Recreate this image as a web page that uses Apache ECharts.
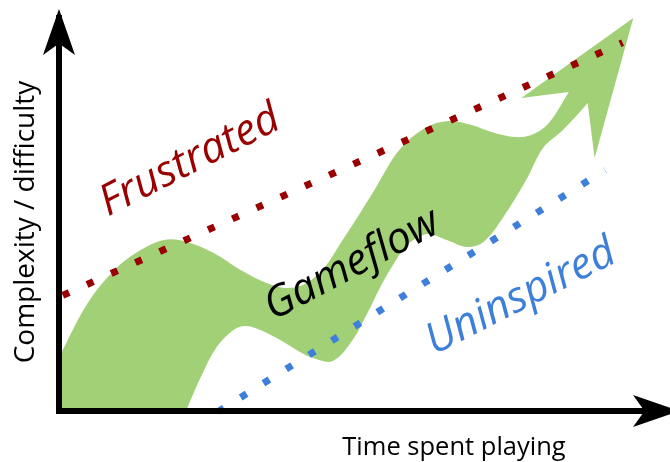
<!DOCTYPE html>
<html>
<head>
<meta charset="utf-8">
<script src="https://cdn.jsdelivr.net/npm/echarts@6/dist/echarts.min.js"></script>
<style>
html,body{margin:0;padding:0;background:#fff;}
#chart{width:670px;height:462px;}
</style>
</head>
<body>
<div id="chart"></div>
<script>
// Gameflow band outline (x: time, y: complexity)
var bandX = [-10, -8, 0, 29, 56, 79, 106, 129, 156, 183, 209, 229, 248, 268, 284, 301, 318, 343, 369, 393, 416, 436, 459, 476, 493, 514, 524, 541, 533, 508, 488, 471, 448, 428, 411, 391, 371, 351, 338, 324, 311, 296, 276, 256, 243, 223, 203, 188, 176, 159, 143, 128, 124];
var bandY = [-10, 40, 54, 108, 141, 159, 171, 169, 158, 141, 128, 123, 127, 144, 168, 194, 221, 261, 283, 290, 286, 279, 274, 276, 287, 319, 335, 321, 308, 281, 263, 231, 194, 169, 164, 171, 177, 166, 148, 124, 98, 71, 50, 53, 59, 71, 81, 85, 81, 64, 34, 0, -10];
// Arrow head of the band
var headX = [514, 466, 579, 540, 533];
var headY = [319, 313, 393, 253, 308];
// "Frustrated" boundary (dotted red)
var redX = [3.8, 568.2];
var redY = [115.6, 368.4];
// "Uninspired" boundary (dotted blue)
var blueX = [160.2, 550.6];
var blueY = [-0.7, 240.9];
// Labels
var xName = 'Time spent playing';
var yName = 'Complexity / difficulty';
var labelFrustrated = 'Frustrated';
var labelGameflow = 'Gameflow';
var labelUninspired = 'Uninspired';

var GREEN = '#a2d077';
var RED = '#990000';
var BLUE = '#3d7fd9';

function pairs(xs, ys) { return xs.map(function (x, i) { return [x, ys[i]]; }); }

var chart = echarts.init(document.getElementById('chart'), null, {renderer: 'canvas'});
var axisCommon = {
  type: 'value',
  min: 0,
  axisLine: {show: true, symbol: ['none', 'arrow'], symbolSize: [24, 46], symbolOffset: [0, 9],
    lineStyle: {color: '#000', width: 6, cap: 'square'}},
  axisTick: {show: false},
  axisLabel: {show: false},
  splitLine: {show: false},
  z: 10
};
var option = {
  animation: false,
  backgroundColor: '#fff',
  grid: {left: 59, right: -5, top: 18, bottom: 51, containLabel: false},
  xAxis: Object.assign({}, axisCommon, {max: 616}),
  yAxis: Object.assign({}, axisCommon, {max: 393}),
  series: [
    {
      type: 'custom',
      clip: true,
      silent: true,
      data: pairs(bandX, bandY),
      renderItem: function (params, api) {
        if (params.dataIndex !== 0) return null;
        var band = bandX.map(function (x, i) { return api.coord([x, bandY[i]]); });
        var head = headX.map(function (x, i) { return api.coord([x, headY[i]]); });
        return {
          type: 'group',
          children: [
            {type: 'polygon', shape: {points: band, smooth: 0.35}, style: {fill: GREEN}},
            {type: 'polygon', shape: {points: head}, style: {fill: GREEN}}
          ]
        };
      },
      z: 1
    },
    {
      type: 'line', silent: true, symbol: 'none', data: pairs(redX, redY),
      lineStyle: {color: RED, width: 7, type: [7, 19.58], cap: 'butt'}, z: 3
    },
    {
      type: 'line', silent: true, symbol: 'none', data: pairs(blueX, blueY),
      lineStyle: {color: BLUE, width: 7, type: [7, 19.83], cap: 'butt'}, z: 3
    }
  ],
  graphic: [
    {type: 'text', x: 190, y: 161, rotation: 27 * Math.PI / 180, z: 20,
      style: {text: labelFrustrated, fill: RED, fontSize: 43, fontStyle: 'italic', fontFamily: 'Open Sans', align: 'center', verticalAlign: 'middle'}},
    {type: 'text', x: 352, y: 265, rotation: 28 * Math.PI / 180, z: 20,
      style: {text: labelGameflow, fill: '#000', fontSize: 43, fontStyle: 'italic', fontFamily: 'Open Sans', align: 'center', verticalAlign: 'middle'}},
    {type: 'text', x: 521, y: 297, rotation: 27 * Math.PI / 180, z: 20,
      style: {text: labelUninspired, fill: BLUE, fontSize: 43, fontStyle: 'italic', fontFamily: 'Open Sans', align: 'center', verticalAlign: 'middle'}},
    {type: 'text', x: 454, y: 448, z: 20,
      style: {text: xName, fill: '#000', fontSize: 25.5, fontFamily: 'Open Sans', align: 'center', verticalAlign: 'middle'}},
    {type: 'text', x: 26, y: 222, rotation: Math.PI / 2, z: 20,
      style: {text: yName, fill: '#000', fontSize: 28, fontFamily: 'Open Sans', align: 'center', verticalAlign: 'middle'}}
  ]
};
chart.setOption(option);
</script>
</body>
</html>
